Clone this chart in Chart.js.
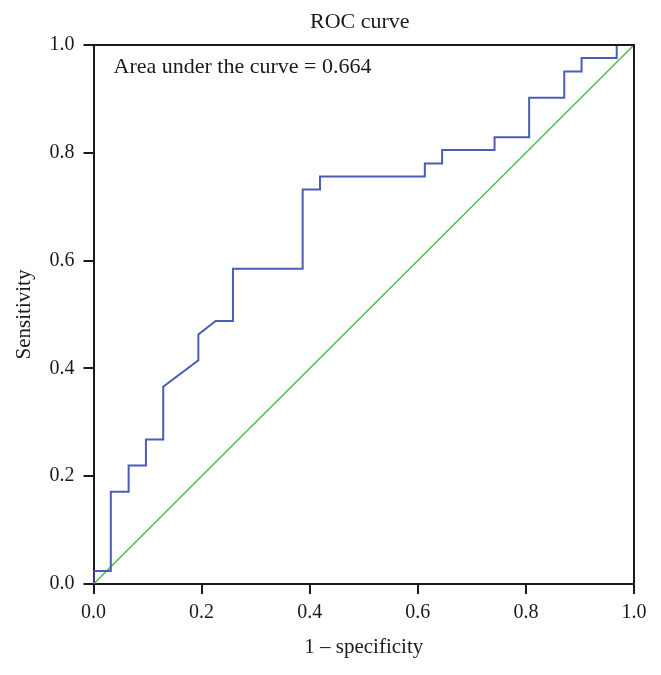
<!DOCTYPE html>
<html>
<head>
<meta charset="utf-8">
<script src="https://cdn.jsdelivr.net/npm/chart.js@4.4.1/dist/chart.umd.min.js"></script>
<style>
html,body{margin:0;padding:0;background:#fff;}
#wrap{width:661px;height:675px;}
</style>
</head>
<body>
<div id="wrap"><canvas id="c" width="661" height="675"></canvas></div>
<script>
const chartTitle = "ROC curve";
const xAxisTitle = "1 \u2013 specificity";
const yAxisTitle = "Sensitivity";
const aucLabel = "Area under the curve = 0.664";
const tickValues = [0.0, 0.2, 0.4, 0.6, 0.8, 1.0];
// ROC curve points (1 - specificity, sensitivity)
const rocFpr = [0, 0, 0.032, 0.032, 0.065, 0.065, 0.097, 0.097, 0.129, 0.129, 0.194, 0.194, 0.226, 0.258, 0.258, 0.387, 0.387, 0.419, 0.419, 0.613, 0.613, 0.645, 0.645, 0.742, 0.742, 0.806, 0.806, 0.871, 0.871, 0.903, 0.903, 0.968, 0.968, 1.0];
const rocTpr = [0, 0.024, 0.024, 0.171, 0.171, 0.220, 0.220, 0.268, 0.268, 0.366, 0.415, 0.463, 0.488, 0.488, 0.585, 0.585, 0.732, 0.732, 0.756, 0.756, 0.780, 0.780, 0.805, 0.805, 0.829, 0.829, 0.902, 0.902, 0.951, 0.951, 0.976, 0.976, 1.0, 1.0];
// Reference (chance) line
const refX = [0, 1];
const refY = [0, 1];

const FONT = "'Liberation Serif', 'DejaVu Serif', serif";
const INK = '#1a1a1a';

const toPoints = (xs, ys) => xs.map((x, i) => ({x: x, y: ys[i]}));

const framePlugin = {
  id: 'frame',
  afterDraw(chart) {
    const {ctx, chartArea: a} = chart;
    ctx.save();
    ctx.strokeStyle = INK;
    ctx.lineWidth = 2;
    ctx.beginPath();
    ctx.moveTo(a.left, a.top);
    ctx.lineTo(a.right, a.top);
    ctx.lineTo(a.right, a.bottom);
    ctx.stroke();
    ctx.fillStyle = INK;
    ctx.font = "22px " + FONT;
    ctx.textAlign = 'center';
    ctx.textBaseline = 'alphabetic';
    ctx.fillText(chartTitle, (a.left + a.right) / 2 - 4, 28);
    ctx.textAlign = 'left';
    ctx.font = "22px " + FONT;
    ctx.fillText(aucLabel, a.left + 20, a.top + 28);
    ctx.restore();
  }
};

new Chart(document.getElementById('c'), {
  type: 'scatter',
  data: {
    datasets: [
      {
        label: 'ROC',
        data: toPoints(rocFpr, rocTpr),
        showLine: true,
        borderColor: '#4a5db3',
        borderWidth: 2,
        pointRadius: 0,
        tension: 0,
        fill: false
      },
      {
        label: 'Reference',
        data: toPoints(refX, refY),
        showLine: true,
        borderColor: '#46c04a',
        borderWidth: 1.5,
        pointRadius: 0,
        tension: 0,
        fill: false
      }
    ]
  },
  options: {
    responsive: false,
    animation: false,
    layout: {padding: {top: 45, right: 27, left: 0, bottom: 0}},
    plugins: {
      legend: {display: false},
      tooltip: {enabled: false},
      title: {display: false}
    },
    scales: {
      x: {
        type: 'linear',
        min: 0, max: 1,
        afterFit(scale) { scale.height = 91; },
        afterBuildTicks(scale) { scale.ticks = tickValues.map(v => ({value: v})); },
        grid: {drawOnChartArea: false, drawTicks: true, tickLength: 10, color: INK, lineWidth: 2},
        border: {display: true, color: INK, width: 2},
        ticks: {
          color: INK,
          font: {family: FONT, size: 20},
          padding: 7,
          maxRotation: 0,
          callback: v => Number(v).toFixed(1)
        },
        title: {
          display: true,
          text: xAxisTitle,
          color: INK,
          font: {family: FONT, size: 21},
          padding: {top: 0, bottom: 15}
        }
      },
      y: {
        type: 'linear',
        min: 0, max: 1,
        afterFit(scale) { scale.width = 93.5; },
        afterBuildTicks(scale) { scale.ticks = tickValues.map(v => ({value: v})); },
        grid: {drawOnChartArea: false, drawTicks: true, tickLength: 10, color: INK, lineWidth: 2},
        border: {display: true, color: INK, width: 2},
        ticks: {
          color: INK,
          font: {family: FONT, size: 20},
          padding: 9,
          callback: v => Number(v).toFixed(1)
        },
        title: {
          display: true,
          text: yAxisTitle,
          color: INK,
          font: {family: FONT, size: 21},
          padding: {top: 12, bottom: 0}
        }
      }
    }
  },
  plugins: [framePlugin]
});
</script>
</body>
</html>
